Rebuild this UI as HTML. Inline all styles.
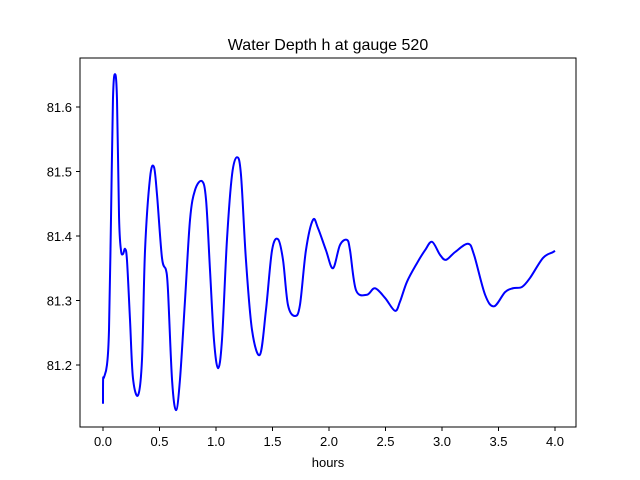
<!DOCTYPE html>
<html><head><meta charset="utf-8"><style>
body{margin:0;background:#fff}
svg{display:block;font-family:"Liberation Sans","DejaVu Sans",sans-serif}
</style></head><body>
<svg id="chart" width="640" height="480" viewBox="0 0 640 480">
<rect width="640" height="480" fill="#fff"/>
<text x="328" y="50" text-anchor="middle" font-size="16">Water Depth h at gauge 520</text>
<g id="ticks"></g>
<path id="line" fill="none" stroke="#0000ff" stroke-width="2"/>
<rect x="80" y="58" width="496" height="369" fill="none" stroke="#000" stroke-width="1"/>
<text x="328" y="467" text-anchor="middle" font-size="13">hours</text>
</svg>
<script>
const hours=[0,0.001,0.009,0.035,0.053,0.071,0.088,0.106,0.124,0.142,0.159,0.177,0.195,0.212,0.239,0.265,0.310,0.345,0.372,0.416,0.451,0.478,0.522,0.558,0.575,0.611,0.646,0.681,0.726,0.770,0.814,0.876,0.912,0.947,0.982,1.018,1.053,1.097,1.142,1.186,1.221,1.265,1.319,1.389,1.442,1.496,1.549,1.593,1.637,1.699,1.743,1.796,1.858,1.903,1.973,2.035,2.097,2.159,2.186,2.239,2.336,2.407,2.496,2.584,2.628,2.690,2.779,2.850,2.912,2.982,3.035,3.115,3.230,3.283,3.381,3.460,3.558,3.628,3.708,3.779,3.894,3.982,4.0];
const depth=[81.140,81.178,81.181,81.200,81.254,81.429,81.611,81.651,81.611,81.429,81.378,81.372,81.380,81.363,81.270,81.180,81.153,81.208,81.378,81.490,81.507,81.464,81.366,81.347,81.316,81.177,81.130,81.177,81.301,81.425,81.471,81.485,81.456,81.347,81.239,81.195,81.239,81.394,81.495,81.522,81.495,81.363,81.254,81.216,81.285,81.378,81.395,81.363,81.293,81.276,81.293,81.378,81.425,81.412,81.378,81.350,81.386,81.394,81.378,81.316,81.309,81.319,81.304,81.284,81.298,81.329,81.358,81.378,81.391,81.371,81.363,81.375,81.388,81.371,81.309,81.291,81.313,81.319,81.321,81.335,81.366,81.375,81.377];
const xTicks=[0,0.5,1,1.5,2,2.5,3,3.5,4];
const yTicks=[81.2,81.3,81.4,81.5,81.6];
const xs=t=>103+t*113;
const ys=v=>365-(v-81.2)*645;
const NS='http://www.w3.org/2000/svg';
const g=document.getElementById('ticks');
xTicks.forEach(t=>{
  const l=document.createElementNS(NS,'line');
  
  
  l.setAttribute('x1',xs(t));l.setAttribute('x2',xs(t));l.setAttribute('y1',427);l.setAttribute('y2',431);l.setAttribute('stroke','#000');
  g.appendChild(l);
  const s=document.createElementNS(NS,'text');
  
  
  s.setAttribute('x',xs(t));s.setAttribute('y',446);s.setAttribute('text-anchor','middle');s.setAttribute('font-size','13');
  s.textContent=t.toFixed(1);g.appendChild(s);
});
yTicks.forEach(v=>{
  const l=document.createElementNS(NS,'line');
  
  
  l.setAttribute('x1',76);l.setAttribute('x2',80);l.setAttribute('y1',ys(v));l.setAttribute('y2',ys(v));l.setAttribute('stroke','#000');
  g.appendChild(l);
  const s=document.createElementNS(NS,'text');
  
  
  s.setAttribute('x',72);s.setAttribute('y',ys(v)+5);s.setAttribute('text-anchor','end');s.setAttribute('font-size','13');
  s.textContent=v.toFixed(1);g.appendChild(s);
});
const P=hours.map((t,i)=>[xs(t),ys(depth[i])]);
let d='M'+P[0][0]+','+P[0][1];
for(let i=0;i<P.length-1;i++){
  const p0=P[i-1]||P[i],p1=P[i],p2=P[i+1],p3=P[i+2]||P[i+1];
  const c1=[p1[0]+(p2[0]-p0[0])/6,p1[1]+(p2[1]-p0[1])/6];
  const c2=[p2[0]-(p3[0]-p1[0])/6,p2[1]-(p3[1]-p1[1])/6];
  d+=`C${c1[0]},${c1[1]} ${c2[0]},${c2[1]} ${p2[0]},${p2[1]}`;
}
document.getElementById('line').setAttribute('d',d);
</script>
</body></html>
